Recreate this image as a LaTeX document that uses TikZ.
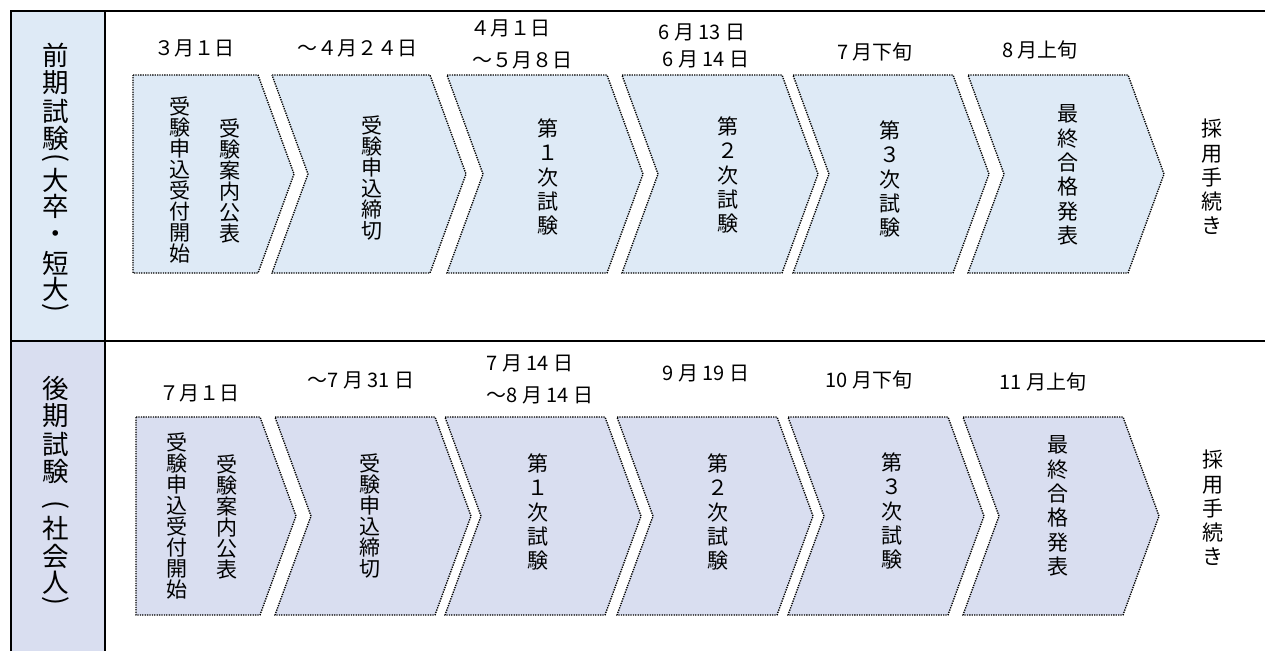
\documentclass[tikz,border=0pt]{standalone}
\usepackage{fontspec}
\setmainfont{Noto Sans CJK JP}
\definecolor{fillA}{HTML}{DEEAF6}
\definecolor{fillB}{HTML}{D9DEF0}
\begin{document}
\begin{tikzpicture}[x=1pt,y=-1pt,
  chev/.style={draw=black, line width=1.35pt, dash pattern=on 1.3pt off 1.1pt},
  vt/.style={font=\fontsize{21}{21}\selectfont, align=center, inner sep=0pt},
  vtw/.style={font=\fontsize{21}{24.3}\selectfont, align=center, inner sep=0pt},
  hd/.style={font=\fontsize{26.5}{25.5}\selectfont, inner sep=0pt},
  dt/.style={font=\fontsize{20}{22}\selectfont, inner sep=0pt, anchor=center},
  gridline/.style={line width=2.2pt, draw=black}]
\useasboundingbox (0,0) rectangle (1265,651);
% table
\fill[fillA] (11,11) rectangle (105,341);
\fill[fillB] (11,341) rectangle (105,651);
\draw[gridline] (11,651) -- (11,11) -- (1265,11);
\draw[gridline] (105,11) -- (105,651);
\draw[gridline] (11,341) -- (1265,341);
% chevrons row 1
\foreach \L/\R [count=\i] in {133/258,272/430,447/607,622/782,793/953,968/1128} {
  \ifnum\i=1
    \path[chev,fill=fillA] (\L,75) -- (\R,75) -- (\R+36,174) -- (\R,273) -- (\L,273) -- cycle;
  \else
    \path[chev,fill=fillA] (\L,75) -- (\R,75) -- (\R+36,174) -- (\R,273) -- (\L,273) -- (\L+36,174) -- cycle;
  \fi
}
% chevrons row 2
\foreach \L/\R [count=\i] in {136/260,275/435,445/605,617/777,788/948,963/1123} {
  \ifnum\i=1
    \path[chev,fill=fillB] (\L,417) -- (\R,417) -- (\R+36,516) -- (\R,615) -- (\L,615) -- cycle;
  \else
    \path[chev,fill=fillB] (\L,417) -- (\R,417) -- (\R+36,516) -- (\R,615) -- (\L,615) -- (\L+36,516) -- cycle;
  \fi
}
% headers (vertical, one glyph per node)
\foreach \c/\y [count=\i] in {前/55,期/83,試/111,験/138,大/180,卒/206,・/237,短/263,大/289}
  \node[hd] (hA\i) at (56,\y) {\c};
\node[hd,rotate=-90] (hAo) at (56,158) {(};
\node[hd,rotate=-90] (hAc) at (56,308) {)};
\foreach \c/\y [count=\i] in {後/388,期/416,試/444,験/471,社/528,会/556,人/583}
  \node[hd] (hB\i) at (56,\y) {\c};
\node[hd,rotate=-90] (hBo) at (56,505) {(};
\node[hd,rotate=-90] (hBc) at (56,601) {)};
% row 1 texts
\node[vt] (a1l) at (180,180) {受\\験\\申\\込\\受\\付\\開\\始};
\node[vt] (a1r) at (230,181) {受\\験\\案\\内\\公\\表};
\node[vt] (a2) at (372,178) {受\\験\\申\\込\\締\\切};
\node[vtw] (a3) at (548,177) {第\\１\\次\\試\\験};
\node[vtw] (a4) at (728,175) {第\\２\\次\\試\\験};
\node[vtw] (a5) at (890,179) {第\\３\\次\\試\\験};
\node[vtw] (a6) at (1068,175) {最\\終\\合\\格\\発\\表};
\node[vtw] (a7) at (1212,177) {採\\用\\手\\続\\き};
% row 2 texts
\node[vt] (b1l) at (177,516) {受\\験\\申\\込\\受\\付\\開\\始};
\node[vt] (b1r) at (227,517) {受\\験\\案\\内\\公\\表};
\node[vt] (b2) at (370,516) {受\\験\\申\\込\\締\\切};
\node[vtw] (b3) at (538,512) {第\\１\\次\\試\\験};
\node[vtw] (b4) at (718,512) {第\\２\\次\\試\\験};
\node[vtw] (b5) at (892,511) {第\\３\\次\\試\\験};
\node[vtw] (b6) at (1058,506) {最\\終\\合\\格\\発\\表};
\node[vtw] (b7) at (1213,508) {採\\用\\手\\続\\き};
% dates row 1
\node[dt] (d1) at (194,48) {３月１日};
\node[dt] (d2) at (357,48) {～４月２４日};
\node[dt] (d3) at (510,28) {４月１日};
\node[dt] (d4) at (522,60) {～５月８日};
\node[dt] (d5) at (702,32) {6 月 13 日};
\node[dt] (d6) at (706,59) {6 月 14 日};
\node[dt] (d7) at (875,52) {7 月下旬};
\node[dt] (d8) at (1040,50) {8 月上旬};
% dates row 2
\node[dt] (e1) at (199,393) {７月１日};
\node[dt] (e2) at (361,380) {～7 月 31 日};
\node[dt] (e3) at (530,363) {7 月 14 日};
\node[dt] (e4) at (540,395) {～8 月 14 日};
\node[dt] (e5) at (706,373) {9 月 19 日};
\node[dt] (e6) at (869,380) {10 月下旬};
\node[dt] (e7) at (1043,382) {11 月上旬};
\end{tikzpicture}
\end{document}
